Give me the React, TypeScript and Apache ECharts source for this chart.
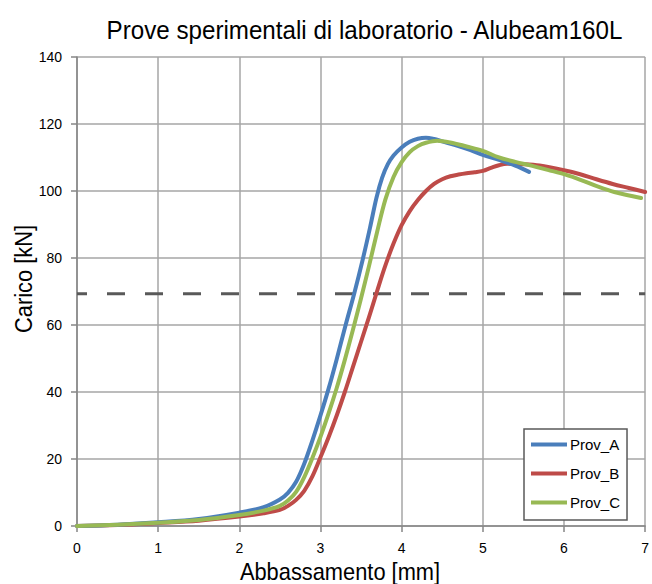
import React, { useEffect, useRef } from "react";
import * as echarts from "echarts";

const titleText = "Prove sperimentali di laboratorio - Alubeam160L";
const xTitle = "Abbassamento [mm]";
const yTitle = "Carico [kN]";
const seriesNames = ["Prov_A", "Prov_B", "Prov_C"];

const provAX = [0, 0.5, 1, 1.5, 2, 2.3, 2.5, 2.6, 2.7, 2.8, 2.9, 3.0, 3.1, 3.2, 3.31, 3.42, 3.52, 3.61, 3.69, 3.76, 3.83, 3.9, 4.0, 4.1, 4.2, 4.3, 4.4, 4.5, 4.69, 4.85, 5.0, 5.2, 5.4, 5.57];
const provAY = [0, 0.4, 1.1, 2.1, 4.0, 5.6, 7.9, 9.9, 13.2, 18.6, 25.5, 33, 41, 49.8, 60, 69.8, 79.5, 89, 98, 104, 108, 110.6, 113, 114.7, 115.6, 115.9, 115.5, 114.8, 113.5, 112.2, 110.8, 109.3, 107.6, 105.7];

const provBX = [0, 0.5, 1, 1.5, 2, 2.3, 2.5, 2.6, 2.7, 2.8, 2.9, 3.0, 3.1, 3.2, 3.3, 3.4, 3.5, 3.6, 3.7, 3.8, 3.9, 4.0, 4.1, 4.2, 4.3, 4.4, 4.5, 4.6, 4.7, 4.8, 4.9, 5.0, 5.1, 5.2, 5.3, 5.5, 5.7, 6.0, 6.2, 6.4, 6.6, 6.8, 7.0];
const provBY = [0, 0.3, 0.9, 1.6, 2.8, 3.8, 4.8, 6.0, 7.8, 10.5, 14.8, 20.5, 26.5, 33, 40, 47.5, 55, 62.5, 70.3, 77.8, 84.3, 89.8, 94, 97.3, 100, 102.1, 103.5, 104.4, 104.9, 105.3, 105.6, 106, 106.9, 107.7, 108.1, 108, 107.6, 106.2, 105, 103.5, 102.1, 100.9, 99.7];

const provCX = [0, 0.5, 1, 1.5, 2, 2.3, 2.5, 2.6, 2.7, 2.8, 2.9, 3.0, 3.1, 3.2, 3.3, 3.4, 3.5, 3.6, 3.7, 3.8, 3.9, 4.0, 4.1, 4.2, 4.3, 4.44, 4.6, 4.8, 5.0, 5.19, 5.4, 5.61, 5.8, 6.02, 6.22, 6.43, 6.62, 6.95];
const provCY = [0, 0.4, 1.0, 1.8, 3.3, 4.6, 6.0, 7.6, 10.2, 14.6, 20.3, 26.6, 33.6, 41.2, 49.6, 58.6, 68, 77.8, 88, 97.5, 104.2, 108.6, 111.6, 113.4, 114.4, 115, 114.5, 113.3, 112, 110.1, 108.7, 107.5, 106.3, 104.9, 103.2, 101.2, 99.7, 97.9];

const limitX = [0, 7];
const limitY = [69.3, 69.3];

const colors = ["#4a7ebb", "#be4b48", "#98b954"];

const FONT = "'Liberation Sans', Arial, sans-serif";

const zip = (xs: number[], ys: number[]) => xs.map((x, i) => [x, ys[i]]);

export default function App() {
  const ref = useRef<HTMLDivElement>(null);
  useEffect(() => {
    if (!ref.current) return;
    const chart = echarts.init(ref.current, undefined, { renderer: "svg" });
    const zs = [4, 3, 5];
    const lineSeries = [
      [provAX, provAY],
      [provBX, provBY],
      [provCX, provCY],
    ].map(([xs, ys], i) => ({
      name: seriesNames[i],
      type: "line",
      data: zip(xs, ys),
      smooth: 0.35,
      showSymbol: false,
      symbol: "none",
      lineStyle: { color: colors[i], width: 4, cap: "round", join: "round" },
      itemStyle: { color: colors[i] },
      z: zs[i],
    }));
    chart.setOption({
      animation: false,
      grid: { left: 77, right: 3, top: 57, bottom: 58, containLabel: false },
      legend: {
        data: seriesNames,
        orient: "vertical",
        left: 524,
        top: 429,
        padding: [8, 7, 10, 7],
        itemWidth: 36,
        itemHeight: 14,
        itemGap: 14,
        borderColor: "#595959",
        borderWidth: 1.5,
        backgroundColor: "#fff",
        icon: "path://M0,5 L36,5 L36,9 L0,9 Z",
        textStyle: { fontFamily: FONT, fontSize: 15, color: "#000", padding: [0, 0, 0, -2] },
      },
      xAxis: {
        type: "value",
        min: 0,
        max: 7,
        interval: 1,
        axisLine: { show: true, lineStyle: { color: "#868686", width: 1.5 } },
        axisTick: { show: true, length: 6, lineStyle: { color: "#868686", width: 1.5 } },
        axisLabel: { fontFamily: FONT, fontSize: 14, color: "#000", margin: 15 },
        splitLine: { show: true, lineStyle: { color: "#a6a6a6", width: 1.5 } },
      },
      yAxis: {
        type: "value",
        min: 0,
        max: 140,
        interval: 20,
        axisLine: { show: true, lineStyle: { color: "#868686", width: 1.5 } },
        axisTick: { show: true, length: 6, lineStyle: { color: "#868686", width: 1.5 } },
        axisLabel: { fontFamily: FONT, fontSize: 14, color: "#000", margin: 15 },
        splitLine: { show: true, lineStyle: { color: "#a6a6a6", width: 1.5 } },
      },
      graphic: [
        {
          type: "text",
          x: 364.5,
          y: 29.7,
          scaleX: 0.93,
          style: { text: titleText, fontFamily: FONT, fontSize: 26, fill: "#000", textAlign: "center", textVerticalAlign: "middle" },
        },
        {
          type: "text",
          x: 340,
          y: 571.7,
          scaleX: 0.91,
          style: { text: xTitle, fontFamily: FONT, fontSize: 24, fill: "#000", textAlign: "center", textVerticalAlign: "middle" },
        },
        {
          type: "text",
          x: 23.4,
          y: 279,
          rotation: Math.PI / 2,
          scaleX: 0.91,
          style: { text: yTitle, fontFamily: FONT, fontSize: 24, fill: "#000", textAlign: "center", textVerticalAlign: "middle" },
        },
      ],
      series: [
        ...lineSeries,
        {
          name: "limit",
          type: "line",
          data: zip(limitX, limitY),
          showSymbol: false,
          symbol: "none",
          lineStyle: { color: "#595959", width: 3, type: [18, 20], dashOffset: 8 },
          z: 2,
        },
      ],
    });
    return () => chart.dispose();
  }, []);
  return <div ref={ref} style={{ width: 652, height: 584, position: "absolute", left: 0, top: 0 }} />;
}
